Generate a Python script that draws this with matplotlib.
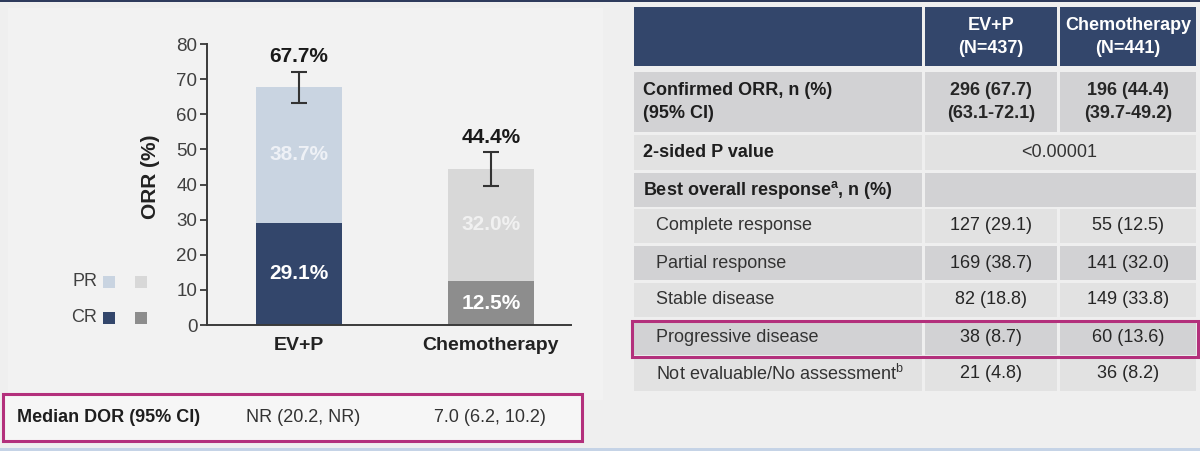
import numpy as np
import matplotlib
matplotlib.use('Agg')
import matplotlib.pyplot as plt
from matplotlib.patches import Rectangle

plt.rcParams['font.family'] = ['Liberation Sans Narrow', 'Liberation Sans', 'DejaVu Sans']
plt.rcParams['mathtext.fontset'] = 'custom'

# chart data
categories = ['EV+P', 'Chemotherapy']
cr = [29.1, 12.5]
pr = [38.7, 32.0]
orr = [67.7, 44.4]
ci_low = [63.1, 39.7]
ci_high = [72.1, 49.2]
dor = ['NR (20.2, NR)', '7.0 (6.2, 10.2)']

# table data
col_heads = ['EV+P\n(N=437)', 'Chemotherapy\n(N=441)']
row_labels = ['Confirmed ORR, n (%)\n(95% CI)', '2-sided P value',
              r'Best overall response$^{\mathregular{a}}$, n (%)',
              'Complete response', 'Partial response', 'Stable disease',
              'Progressive disease', r'Not evaluable/No assessment$^{\mathregular{b}}$']
evp_vals = ['296 (67.7)\n(63.1-72.1)', '', '', '127 (29.1)', '169 (38.7)',
            '82 (18.8)', '38 (8.7)', '21 (4.8)']
chemo_vals = ['196 (44.4)\n(39.7-49.2)', '', '', '55 (12.5)', '141 (32.0)',
              '149 (33.8)', '60 (13.6)', '36 (8.2)']
p_value = '<0.00001'

navy = '#33466b'
light_blue = '#c9d4e1'
gray_cr = '#8d8d8d'
gray_pr = '#d8d8d8'
magenta = '#b3307c'
bg = '#efefef'

W, H = 1200, 451
fig = plt.figure(figsize=(12, 4.51), dpi=100)
fig.patch.set_facecolor(bg)

# overlay in pixel coordinates for the slide pieces
ax0 = fig.add_axes([0, 0, 1, 1], zorder=0)
ax0.set_xlim(0, W)
ax0.set_ylim(H, 0)
ax0.axis('off')

ax0.add_patch(Rectangle((0, 0), W, 2, color='#2e3b5c', lw=0))
ax0.add_patch(Rectangle((0, H - 3), W, 3, color='#c5d3e6', lw=0))
ax0.add_patch(Rectangle((8, 8), 595, 392, color='#f2f2f2', lw=0))

# bar chart
ax = fig.add_axes([207 / W, (H - 325) / H, (571 - 207) / W, (325 - 44) / H], zorder=1)
ax.set_facecolor('none')
x = np.arange(len(categories))
cr_colors = [navy, gray_cr]
pr_colors = [light_blue, gray_pr]
ax.bar(x, cr, width=0.45, color=cr_colors, lw=0)
ax.bar(x, pr, width=0.45, bottom=cr, color=pr_colors, lw=0)
err = [np.array(orr) - np.array(ci_low), np.array(ci_high) - np.array(orr)]
ax.errorbar(x, orr, yerr=err, fmt='none', ecolor='#333333', elinewidth=1.5,
            capsize=6, capthick=1.5)

pr_text = ['#eef1f6', '#f1f1f1']
for i in range(len(categories)):
    ax.text(x[i], cr[i] / 2, f'{cr[i]:.1f}%', ha='center', va='center',
            color='white', fontsize=15, fontweight='bold')
    ax.text(x[i], cr[i] + pr[i] / 2, f'{pr[i]:.1f}%', ha='center', va='center',
            color=pr_text[i], fontsize=15, fontweight='bold')
    ax.annotate(f'{orr[i]:.1f}%', (x[i], ci_high[i]), xytext=(0, 4),
                textcoords='offset points', ha='center', va='bottom',
                fontsize=15, fontweight='bold', color='#1a1a1a')

ax.set_xlim(-0.479, 1.417)
ax.set_ylim(0, 80)
ax.set_yticks(range(0, 81, 10))
ax.set_xticks(x, categories)
for s in ['top', 'right']:
    ax.spines[s].set_visible(False)
for s in ['left', 'bottom']:
    ax.spines[s].set_color('#3a3a3a')
    ax.spines[s].set_linewidth(1.4)
ax.tick_params(axis='y', length=5, width=1.3, color='#3a3a3a', labelsize=13.5,
               labelcolor='#404040', pad=2)
ax.tick_params(axis='x', length=0, labelsize=14, labelcolor='#222222', pad=9)
for lab in ax.get_xticklabels():
    lab.set_fontweight('bold')

ax0.text(150, 177, 'ORR (%)', rotation=90, ha='center', va='center',
         fontsize=15, fontweight='bold', color='#222222')

# legend
for yy, name, cols in [(282, 'PR', pr_colors), (318, 'CR', cr_colors)]:
    ax0.text(97, yy, name, ha='right', va='center', fontsize=13, color='#404040')
    ax0.add_patch(Rectangle((103, yy - 6), 12, 12, color=cols[0], lw=0))
    ax0.add_patch(Rectangle((135, yy - 6), 12, 12, color=cols[1], lw=0))

# median DOR box
ax0.add_patch(Rectangle((3, 394), 579, 47, facecolor='#f6f6f6', edgecolor=magenta, lw=2.2))
ax0.text(17, 418, 'Median DOR (95% CI)', ha='left', va='center', fontsize=13,
         fontweight='bold', color='#1e1e1e')
ax0.text(303, 418, dor[0], ha='center', va='center', fontsize=13, color='#333333')
ax0.text(490, 418, dor[1], ha='center', va='center', fontsize=13, color='#333333')

# table on the right
c0, c1, c2, c3 = 634, 922, 1057, 1196
gap = 3
ax0.add_patch(Rectangle((c0, 7), c1 - c0, 59, color=navy, lw=0))
ax0.add_patch(Rectangle((c1 + gap, 7), c2 - c1 - gap, 59, color=navy, lw=0))
ax0.add_patch(Rectangle((c2 + gap, 7), c3 - c2 - gap, 59, color=navy, lw=0))
ax0.text((c1 + gap + c2) / 2, 37, col_heads[0], ha='center', va='center',
         fontsize=13, fontweight='bold', color='white', linespacing=1.45)
ax0.text((c2 + gap + c3) / 2, 37, col_heads[1], ha='center', va='center',
         fontsize=13, fontweight='bold', color='white', linespacing=1.45)

row_tops = [72, 135, 173, 209, 246, 283, 320, 357]
row_bots = [132, 170, 207, 243, 280, 317, 355, 391]
dark_row = '#d2d2d4'
light_row = '#e2e2e2'
for r in range(len(row_labels)):
    top, bot = row_tops[r], row_bots[r]
    fc = dark_row if r in (0, 2, 4, 6) else light_row
    ax0.add_patch(Rectangle((c0, top), c1 - c0, bot - top, color=fc, lw=0))
    if r in (1, 2):
        ax0.add_patch(Rectangle((c1 + gap, top), c3 - c1 - gap, bot - top, color=fc, lw=0))
    else:
        ax0.add_patch(Rectangle((c1 + gap, top), c2 - c1 - gap, bot - top, color=fc, lw=0))
        ax0.add_patch(Rectangle((c2 + gap, top), c3 - c2 - gap, bot - top, color=fc, lw=0))
    yc = (top + bot) / 2
    bold = r < 3
    ax0.text(643 if bold else 656, yc, row_labels[r], ha='left', va='center',
             fontsize=13, color='#1e1e1e' if bold else '#333333',
             fontweight='bold' if bold else 'normal', linespacing=1.45)
    wt = 'bold' if r == 0 else 'normal'
    ax0.text((c1 + gap + c2) / 2, yc, evp_vals[r], ha='center', va='center',
             fontsize=13, color='#262626', fontweight=wt, linespacing=1.45)
    ax0.text((c2 + gap + c3) / 2, yc, chemo_vals[r], ha='center', va='center',
             fontsize=13, color='#262626', fontweight=wt, linespacing=1.45)
ax0.text((c1 + c3) / 2, (row_tops[1] + row_bots[1]) / 2, p_value, ha='center',
         va='center', fontsize=13, color='#333333')

# highlight box on progressive disease row
ax0.add_patch(Rectangle((632, 321), 566, 36, facecolor='none', edgecolor=magenta, lw=2.2))

fig.savefig('out.png', dpi=100, facecolor=fig.get_facecolor())
